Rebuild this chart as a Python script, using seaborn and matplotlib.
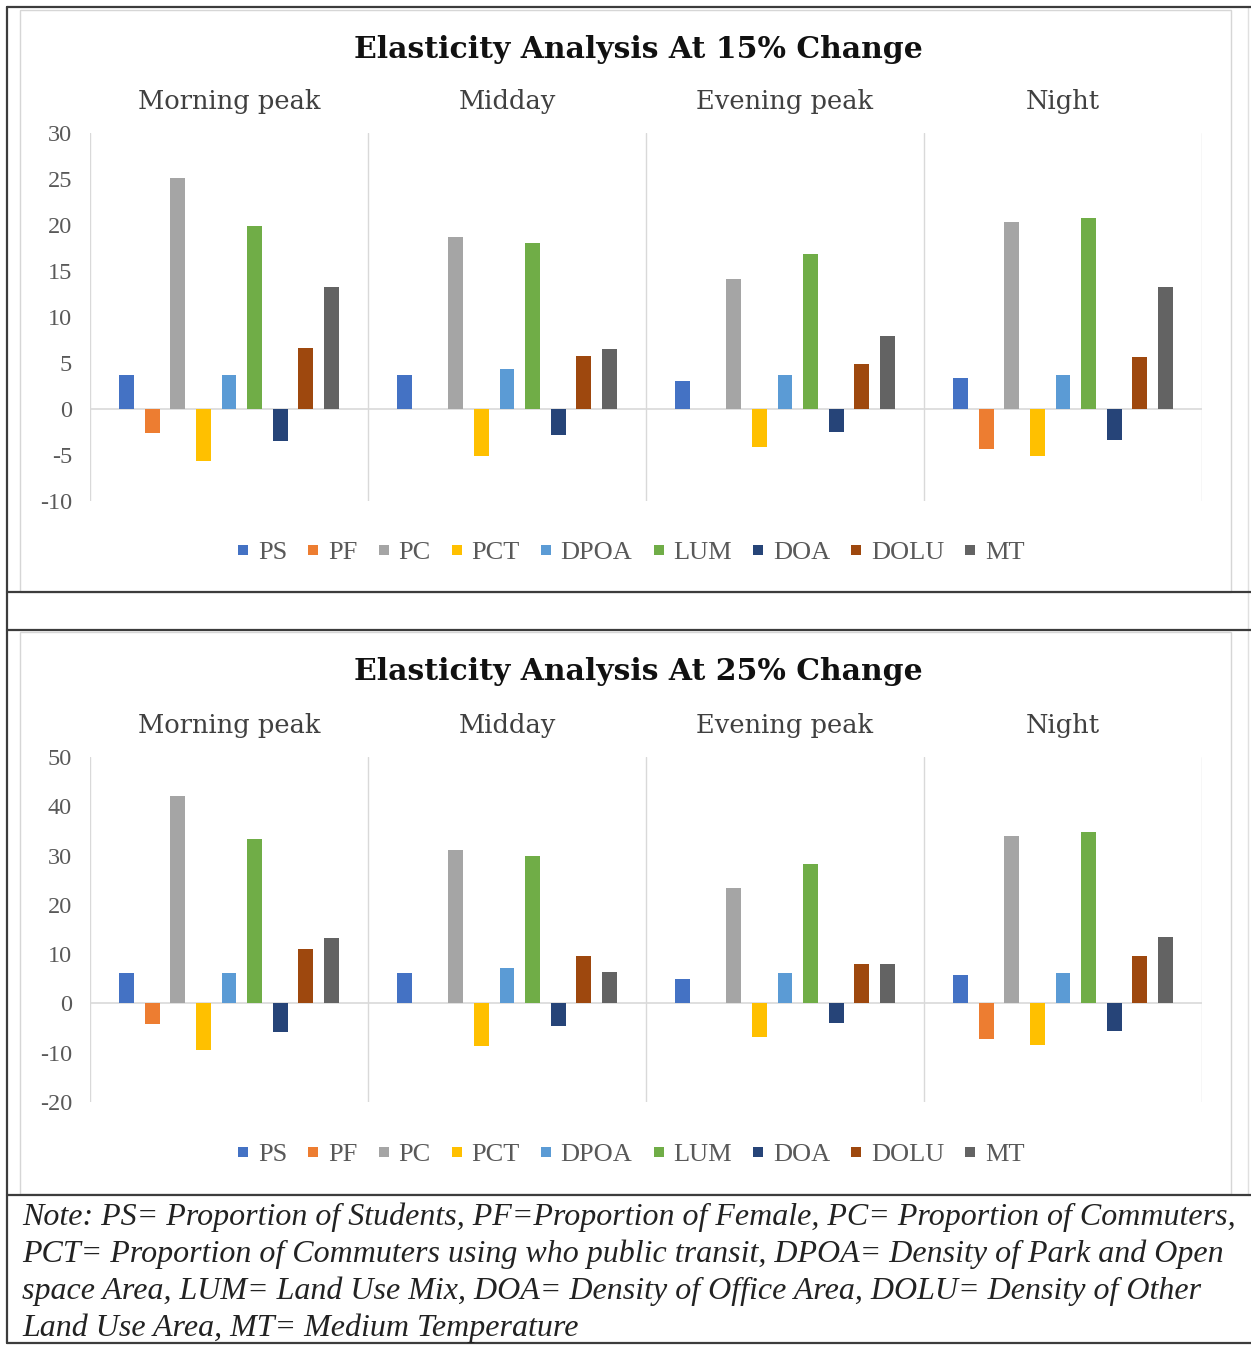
import matplotlib
matplotlib.use("Agg")
import matplotlib.pyplot as plt
import pandas as pd
import seaborn as sns
from matplotlib.lines import Line2D
from matplotlib.patches import Rectangle

periods = ["Morning peak", "Midday", "Evening peak", "Night"]
variables = ["PS", "PF", "PC", "PCT", "DPOA", "LUM", "DOA", "DOLU", "MT"]
colors = ["#4472C4", "#ED7D31", "#A5A5A5", "#FFC000", "#5B9BD5",
          "#70AD47", "#264478", "#9E480E", "#636363"]

# Elasticity at 15% change (values per variable, in the order above)
e15_morning = [3.7, -2.6, 25.1, -5.7, 3.7, 19.9, -3.5, 6.6, 13.3]
e15_midday = [3.7, 0.0, 18.7, -5.1, 4.3, 18.0, -2.8, 5.8, 6.5]
e15_evening = [3.0, 0.0, 14.1, -4.1, 3.7, 16.9, -2.5, 4.9, 7.9]
e15_night = [3.4, -4.4, 20.3, -5.1, 3.7, 20.8, -3.4, 5.7, 13.3]

# Elasticity at 25% change
e25_morning = [6.2, -4.2, 42.0, -9.4, 6.1, 33.3, -5.8, 11.0, 13.3]
e25_midday = [6.1, 0.0, 31.2, -8.6, 7.2, 30.0, -4.6, 9.7, 6.4]
e25_evening = [5.0, 0.0, 23.5, -6.8, 6.2, 28.2, -4.0, 8.1, 8.0]
e25_night = [5.7, -7.3, 34.0, -8.5, 6.1, 34.8, -5.5, 9.7, 13.4]

yticks15 = [30, 25, 20, 15, 10, 5, 0, -5, -10]
yticks25 = [50, 40, 30, 20, 10, 0, -10, -20]

note_lines = [
    "Note: PS= Proportion of Students, PF=Proportion of Female, PC= Proportion of Commuters,",
    "PCT= Proportion of Commuters using who public transit, DPOA= Density of Park and Open",
    "space Area, LUM= Land Use Mix, DOA= Density of Office Area, DOLU= Density of Other",
    "Land Use Area, MT= Medium Temperature",
]

W, H = 1251, 1346
sns.set_theme(style="white")
plt.rcParams["axes.unicode_minus"] = False
plt.rcParams["font.family"] = ["Liberation Serif", "DejaVu Serif"]

fig = plt.figure(figsize=(W / 100, H / 100), dpi=100)


def fx(x):
    return x / W


def fy(y):
    return 1 - y / H


def long_frame(rows):
    recs = []
    for p, vals in zip(periods, rows):
        for v, val in zip(variables, vals):
            recs.append({"period": p, "variable": v, "value": val})
    return pd.DataFrame(recs)


def draw_chart(rows, yticks, box, title, title_y, legend_y):
    x0, ytop, x1, ybot = box
    ax = fig.add_axes([fx(x0), fy(ybot), fx(x1) - fx(x0), (ybot - ytop) / H])
    df = long_frame(rows)
    sns.barplot(data=df, x="period", y="value", hue="variable",
                hue_order=variables, palette=colors, order=periods,
                width=0.83, gap=0.42, errorbar=None, saturation=1,
                linewidth=0, legend=False, ax=ax)
    ax.set_xlim(-0.5, 3.5)
    ax.set_ylim(min(yticks), max(yticks))
    for s in ax.spines.values():
        s.set_visible(False)
    for xv in [-0.5, 0.5, 1.5, 2.5, 3.5]:
        ax.axvline(xv, color="#D9D9D9", lw=1.0, zorder=0)
    ax.axhline(0, color="#D9D9D9", lw=1.2, zorder=0.5)
    ax.set_yticks(yticks)
    ax.set_yticklabels([str(t) for t in yticks])
    ax.tick_params(axis="y", length=5, color="#D9D9D9", width=1, pad=8,
                   labelsize=17.5, labelcolor="#595959")
    ax.xaxis.set_ticks_position("top")
    ax.tick_params(axis="x", length=0, pad=14, labelsize=18.5,
                   labelcolor="#404040")
    for lab in ax.get_xticklabels():
        lab.set_fontfamily("DejaVu Serif")
    ax.set_xlabel("")
    ax.set_ylabel("")
    ax.grid(False)

    handles = [Line2D([], [], marker="s", linestyle="", markersize=7.5,
                      markerfacecolor=c, markeredgewidth=0, label=v)
               for v, c in zip(variables, colors)]
    fig.legend(handles=handles, loc="center",
               bbox_to_anchor=(fx(630), fy(legend_y)),
               bbox_transform=fig.transFigure, ncol=9, frameon=False,
               fontsize=19, handlelength=0.6, handletextpad=0.25,
               columnspacing=0.7, labelcolor="#595959")
    fig.text(fx(638), fy(title_y), title, ha="center", va="center",
             fontsize=21.5, fontweight="bold", fontfamily="DejaVu Serif",
             color="#111111")
    return ax


draw_chart([e15_morning, e15_midday, e15_evening, e15_night], yticks15,
           (90, 133, 1202, 501), "Elasticity Analysis At 15% Change", 50, 552)
draw_chart([e25_morning, e25_midday, e25_evening, e25_night], yticks25,
           (90, 757, 1202, 1102), "Elasticity Analysis At 25% Change", 671, 1154)

# light chart borders
for (bx0, by0, bx1, by1) in [(20, 10, 1231, 592), (20, 632, 1231, 1194)]:
    fig.add_artist(Rectangle((fx(bx0), fy(by1)), fx(bx1) - fx(bx0), (by1 - by0) / H,
                             transform=fig.transFigure, fill=False,
                             edgecolor="#D6D6D6", lw=1.0))
fig.add_artist(Line2D([fx(1248), fx(1248)], [fy(7), fy(1195)],
                      transform=fig.transFigure, color="#E0E0E0", lw=1.0))

# table rules
dark = "#3C3C3C"
for yy in [7, 592, 630, 1195, 1343]:
    fig.add_artist(Line2D([fx(7), 1.0], [fy(yy), fy(yy)],
                          transform=fig.transFigure, color=dark, lw=1.6))
fig.add_artist(Line2D([fx(7), fx(7)], [fy(7), fy(1343)],
                      transform=fig.transFigure, color=dark, lw=1.6))

# explanatory note
for i, line in enumerate(note_lines):
    fig.text(fx(22), fy(1217 + 37 * i), line, ha="left", va="center",
             fontsize=23, style="italic", fontfamily="Liberation Serif",
             color="#222222")

fig.savefig("out.png", dpi=100)
